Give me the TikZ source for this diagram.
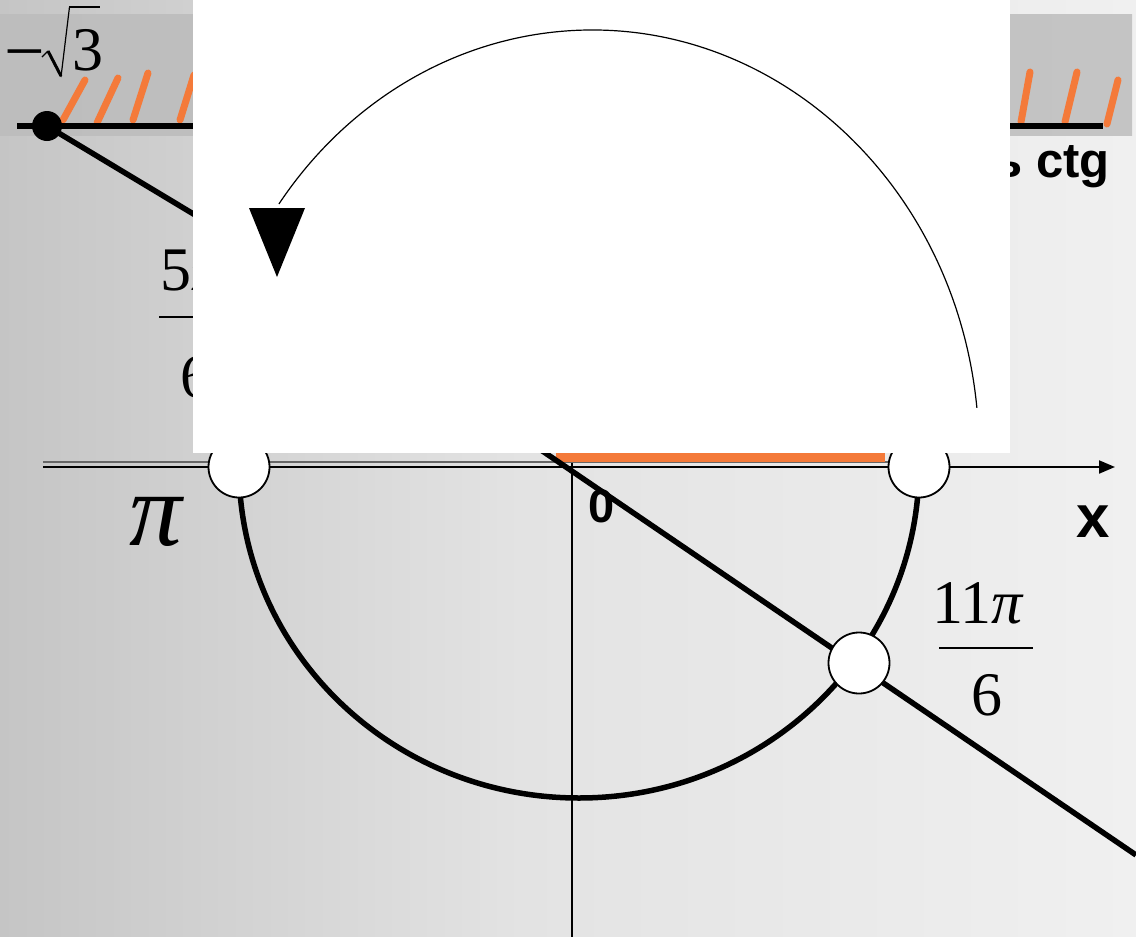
\documentclass[tikz,border=0pt]{standalone}
\usepackage{fontspec}
\setmainfont{Liberation Serif}
\newfontfamily\arialfont{Liberation Sans}
\usetikzlibrary{arrows.meta}
\definecolor{hatchor}{RGB}{244,122,58}
\definecolor{bgA}{RGB}{197,197,197}
\definecolor{bgB}{RGB}{227,227,227}
\definecolor{bgC}{RGB}{240,240,240}
\definecolor{bandA}{RGB}{189,189,189}
\definecolor{bandB}{RGB}{196,196,196}
\pgfdeclarehorizontalshading{bgshade}{100bp}{color(0bp)=(bgA); color(25bp)=(bgA); color(48bp)=(bgB); color(75bp)=(bgC); color(100bp)=(bgC)}
\pgfdeclarehorizontalshading{bandshade}{100bp}{color(0bp)=(bandA); color(25bp)=(bandA); color(75bp)=(bandB); color(100bp)=(bandB)}
\tikzset{
  thickline/.style={line width=5.5pt, black},
  marker/.style={circle, fill=white, draw=black, line width=1.8pt, minimum size=61pt, inner sep=0pt},
  dotst/.style={circle, fill=black, minimum size=30pt, inner sep=0pt},
  serif/.style={font=\fontsize{62}{62}\selectfont, inner sep=0pt},
  bigpi/.style={font=\fontsize{105}{105}\selectfont, inner sep=0pt},
  sanslbl/.style={font=\arialfont\bfseries\fontsize{#1}{#1}\selectfont, inner sep=0pt},
  hatch/.style={hatchor, line width=7pt, line cap=round},
  fracbar/.style={line width=2pt, black},
}
\begin{document}
\begin{tikzpicture}[x=1pt,y=-1pt]
\useasboundingbox (0,0) rectangle (1136,937);
\shade[shading=bgshade] (0,0) rectangle (1136,937);
\shade[shading=bandshade] (0,14) rectangle (1132,135);
% hatch marks on the ctg axis
\foreach \xa/\ya/\xb/\yb in {63/120/85/80, 97/123/118/78, 133/120/148/73, 180/120/194/75,
  1021/122/1030/72, 1065/122/1077/72, 1107/124/1118/80}
  \draw[hatch] (\xa,\ya) -- (\xb,\yb);
% ctg axis
\coordinate (ctgL) at (17,126);
\coordinate (ctgR) at (1103,126);
\draw[line width=6pt] (ctgL) -- (ctgR);
\node[dotst] (A) at (47,126) {};
% -sqrt(3)
\node[font=\fontsize{72}{72}\selectfont, inner sep=0pt, anchor=base west] (minus) at (4,75) {−};
\draw[line width=1.3pt, line join=miter] (42,57) -- (48,51);
\draw[line width=3pt] (48,51) -- (61,76);
\draw[line width=1.2pt] (61,77) -- (69.5,7);
\draw[line width=1.5pt] (69,7) -- (100,7);
\node[serif, anchor=base west] (three) at (72,70) {3};
% ctg label
\node[sanslbl=49, anchor=base east] (ctg) at (1110,177) {Ось ctg};
% 5pi/6 label
\node[serif, anchor=base west] (n5) at (160,290) {5\textit{π}};
\draw[fracbar] (159,317) -- (231,317);
\node[serif, anchor=base] (d5) at (196,397) {6};
% unit circle (lower half)
\draw[thickline] (919,467) arc[start angle=0, end angle=180, x radius=340, y radius=331];
% vertical axis
\coordinate (Vtop) at (572,440);
\coordinate (Vbot) at (572,937);
\draw[line width=2.6pt] (Vtop) -- (Vbot);
% x axis
\coordinate (Xl) at (43,467);
\coordinate (Xr) at (1115,467);
\draw[line width=1.2pt, black!60] (43,462) -- (888,462);
\draw[line width=2pt, -{Triangle[length=16pt,width=13pt]}] (Xl) -- (Xr);
% orange segment
\fill[hatchor] (556,453) rectangle (885,462);
% line through the origin
\coordinate (K1) at (300,278);
\coordinate (K2) at (300,286);
\coordinate (E) at (1136,855);
\draw[thickline] (A.center) -- (K1);
\draw[thickline] (K2) -- (E);
% points
\node[marker] (Ppi) at (239,467) {};
\node[marker] (P0) at (919,467) {};
\node[marker] (P11) at (859,663) {};
% white panel
\fill[white] (193,0) rectangle (1010,453);
% rotation arrow
\coordinate (arcS) at (976.9,407.9);
\coordinate (arcE) at (278.9,204);
\draw[line width=1.2pt] (arcS) arc[start angle=-6, end angle=-144, x radius=387, y radius=422];
\fill (249,208) -- (305,208) -- (277,277) -- cycle;
% labels
\node[bigpi, anchor=base] (lpi) at (157,545) {\textit{π}};
\node[sanslbl=47, anchor=base] (l0) at (602,522) {0};
\node[sanslbl=60, anchor=base] (lx) at (1093,537) {x};
\node[serif, anchor=base west] (n11) at (932,623) {11\textit{π}};
\draw[fracbar] (939,648) -- (1033,648);
\node[serif, anchor=base] (d11) at (987,715) {6};
\end{tikzpicture}
\end{document}
